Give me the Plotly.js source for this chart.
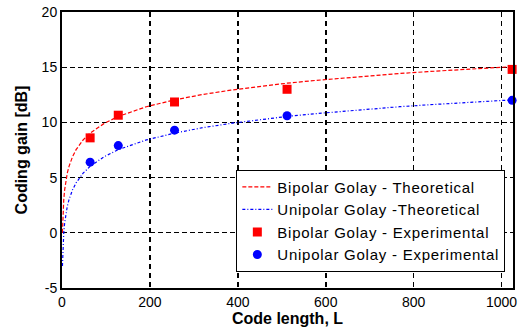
<!DOCTYPE html>
<html><head><meta charset="utf-8">
<script src="https://cdn.plot.ly/plotly-3.0.1.min.js"></script>
<style>html,body{margin:0;padding:0;background:#fff}#chart{width:524px;height:332px}
text.legendtext{letter-spacing:0.75px}</style>
</head><body><div id="chart"></div>
<script>
// Theoretical curves
const curveL = [1,2,3,4,6,8,12,16,24,32,48,64,96,128,192,256,320,384,448,512,576,640,704,768,832,896,960,1024];
const bipolarTheory = [0,1.51,2.39,3.01,3.89,4.52,5.40,6.02,6.90,7.53,8.41,9.03,9.91,10.54,11.42,12.04,12.53,12.92,13.26,13.55,13.80,14.03,14.24,14.43,14.60,14.76,14.91,15.05];
const unipolarTheory = [-3.01,-1.51,-0.62,0.00,0.88,1.51,2.39,3.01,3.89,4.52,5.40,6.02,6.90,7.53,8.41,9.03,9.52,9.91,10.25,10.54,10.79,11.02,11.23,11.42,11.59,11.75,11.90,12.04];
// Experimental points
const expL = [64,128,256,512,1024];
const bipolarExp = [8.6,10.65,11.85,13.0,14.8];
const unipolarExp = [6.4,7.9,9.3,10.6,12.0];
const xTicks = [0,200,400,600,800,1000];
const yTicks = [-5,0,5,10,15,20];

const traces = [
  {x: curveL, y: bipolarTheory, mode:'lines', name:'Bipolar Golay - Theoretical',
   line:{color:'#ff0000', width:1.2, dash:'4px,2px'}},
  {x: curveL, y: unipolarTheory, mode:'lines', name:'Unipolar Golay -Theoretical',
   line:{color:'#0000ff', width:1.2, dash:'3px,2px,1px,2px'}},
  {x: expL, y: bipolarExp, mode:'markers', name:'Bipolar Golay - Experimental',
   marker:{color:'#ff0000', symbol:'square', size:9}, cliponaxis:false},
  {x: expL, y: unipolarExp, mode:'markers', name:'Unipolar Golay - Experimental',
   marker:{color:'#0000ff', symbol:'circle', size:9}, cliponaxis:false}
];
const fontFam = 'Liberation Sans, Arial, sans-serif';
const layout = {
  width:524, height:332,
  margin:{l:62, r:11, t:12, b:44},
  paper_bgcolor:'#fff', plot_bgcolor:'#fff',
  font:{family:fontFam, size:14, color:'#000'},
  showlegend:true,
  legend:{x:0.983, y:0.059, xanchor:'right', yanchor:'bottom',
    bgcolor:'#fff', bordercolor:'#000', borderwidth:1,
    font:{family:fontFam, size:15, color:'#000'}},
  xaxis:{range:[0,1026], tickvals:xTicks, ticktext:xTicks.map(String),
    showgrid:true, gridcolor:'#000', griddash:'5px,4px', gridwidth:1.6,
    showline:true, linecolor:'#000', linewidth:2, mirror:true,
    ticks:'', zeroline:false,
    title:{text:'<b>Code length, L</b>', font:{size:16}, standoff:2}},
  yaxis:{range:[-5,20], tickvals:yTicks, ticktext:yTicks.map(String),
    showgrid:true, gridcolor:'#000', griddash:'5px,3px', gridwidth:1,
    showline:true, linecolor:'#000', linewidth:2, mirror:true,
    ticks:'', zeroline:false,
    title:{text:'<b>Coding gain [dB]</b>', font:{size:16}, standoff:10}}
};
Plotly.newPlot('chart', traces, layout, {displayModeBar:false, staticPlot:true});
</script></body></html>
